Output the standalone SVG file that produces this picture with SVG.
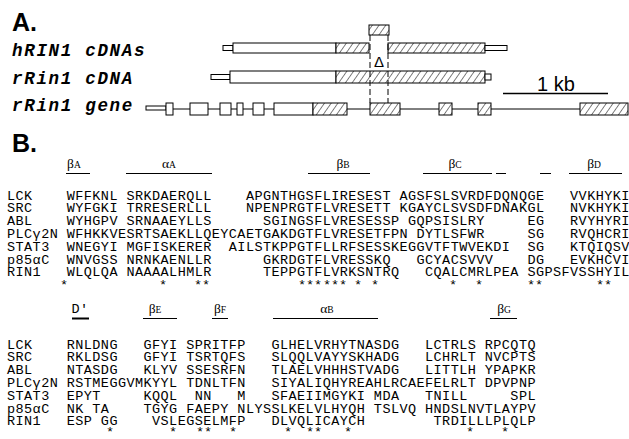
<svg xmlns="http://www.w3.org/2000/svg" width="629" height="439" viewBox="0 0 629 439">
<style>
.hd{font-family:"Liberation Sans",Arial,sans-serif;font-weight:bold;font-size:25px;fill:#000}
.lbl{font-family:"Liberation Mono","Courier New",monospace;font-weight:bold;font-style:italic;font-size:17.5px;letter-spacing:1.7px;white-space:pre;fill:#000}
.seq{font-family:"Liberation Mono","Courier New",monospace;font-size:13.5px;letter-spacing:0.43px;white-space:pre;fill:#000}
.st{font-family:"Liberation Mono","Courier New",monospace;font-size:13.5px;fill:#000;text-anchor:middle}
.gk{font-family:"Liberation Serif","Times New Roman",serif;font-size:13.5px;fill:#000}
.sc{font-size:9.5px}
.ln{stroke:#000;stroke-width:1;fill:none}
.bar{stroke:#000;stroke-width:1}
.w{fill:#fff}
.h{fill:url(#hatch)}
.dash{stroke:#000;stroke-width:1;stroke-dasharray:6 3;fill:none}
.sans{font-family:"Liberation Sans",Arial,sans-serif;fill:#000}
</style>
<defs>
<pattern id="hatch" patternUnits="userSpaceOnUse" width="5.5" height="10" patternTransform="rotate(35)">
<rect width="5.5" height="10" fill="#fff"/>
<line x1="0" y1="0" x2="0" y2="10" stroke="#000" stroke-width="1"/>
</pattern>
</defs>
<rect width="629" height="439" fill="#fff"/>

<g id="panelA">
<text class="hd" x="12" y="31">A.</text>
<g id="hRIN1">
<text class="lbl" x="12" y="56" xml:space="preserve">hRIN1 cDNAs</text>
<rect class="bar w" x="223" y="45.5" width="10" height="5"/>
<rect class="bar w" x="233" y="43" width="103" height="10"/>
<rect class="bar h" x="336" y="43" width="33" height="10"/>
<rect class="bar h" x="388" y="43" width="97" height="10"/>
<rect class="bar w" x="485" y="45.5" width="22" height="5"/>
</g>
<g id="exon-delta">
<rect class="bar h" x="369" y="25" width="20" height="10"/>
<text class="sans" x="379" y="67" font-size="15" text-anchor="middle">Δ</text>
</g>
<g id="rRin1-cDNA">
<text class="lbl" x="12" y="84" xml:space="preserve">rRin1 cDNA</text>
<rect class="bar w" x="211" y="74.5" width="19" height="5"/>
<rect class="bar w" x="230" y="71" width="106" height="12"/>
<rect class="bar h" x="336" y="71" width="149" height="12"/>
<rect class="bar w" x="485" y="74" width="6" height="6"/>
</g>
<g id="rRin1-gene">
<text class="lbl" x="12" y="111" xml:space="preserve">rRin1 gene</text>
<line class="ln" x1="166" y1="109" x2="628" y2="109"/>
<rect class="bar w" x="146" y="106" width="20" height="4"/>
<rect class="bar w" x="166" y="103" width="7" height="12"/>
<rect class="bar w" x="190" y="103" width="18" height="12"/>
<rect class="bar w" x="220" y="103" width="11" height="12"/>
<rect class="bar w" x="237" y="103" width="6" height="12"/>
<rect class="bar w" x="253" y="103" width="11" height="12"/>
<rect class="bar w" x="274" y="103" width="39" height="12"/>
<rect class="bar h" x="313" y="103" width="34" height="12"/>
<rect class="bar h" x="370" y="103" width="30" height="12"/>
<rect class="bar h" x="439" y="103" width="13" height="12"/>
<rect class="bar h" x="478" y="103" width="13" height="12"/>
<rect class="bar h" x="580" y="103" width="48" height="12"/>
</g>
<g id="connectors">
<line class="dash" x1="370" y1="35" x2="370" y2="103"/>
<line class="dash" x1="388" y1="35" x2="388" y2="103"/>
</g>
<g id="scale">
<text class="sans" x="537" y="91" font-size="20">1 kb</text>
<line x1="503" y1="93.5" x2="608" y2="93.5" stroke="#000" stroke-width="1.5"/>
</g>
</g>

<g id="panelB">
<text class="hd" x="12" y="152">B.</text>
<g id="block1-headers">
<text class="gk" x="67" y="168">β<tspan class="sc">A</tspan></text>
<line class="ln" x1="66" y1="173.5" x2="90" y2="173.5"/>
<text class="gk" x="169" y="168" text-anchor="middle">α<tspan class="sc">A</tspan></text>
<line class="ln" x1="126" y1="173.5" x2="212" y2="173.5"/>
<text class="gk" x="343" y="168" text-anchor="middle">β<tspan class="sc">B</tspan></text>
<line class="ln" x1="308" y1="173.5" x2="370" y2="173.5"/>
<text class="gk" x="455" y="168" text-anchor="middle">β<tspan class="sc">C</tspan></text>
<line class="ln" x1="423" y1="173.5" x2="492" y2="173.5"/>
<line class="ln" x1="496" y1="173.5" x2="506" y2="173.5"/>
<line class="ln" x1="540" y1="173.5" x2="551" y2="173.5"/>
<text class="gk" x="594" y="168" text-anchor="middle">β<tspan class="sc">D</tspan></text>
<line class="ln" x1="569" y1="173.5" x2="622" y2="173.5"/>
</g>
<g id="block1-rows" xml:space="preserve">
<text class="seq" x="7" y="199.5">LCK    WFFKNL SRKDAERQLL    APGNTHGSFLIRESEST AGSFSLSVRDFDQNQGE   VVKHYKI</text>
<text class="seq" x="7" y="212.3">SRC    WYFGKI TRRESERLLL    NPENPRGTFLVRESETT KGAYCLSVSDFDNAKGL   NVKHYKI</text>
<text class="seq" x="7" y="225.1">ABL    WYHGPV SRNAAEYLLS      SGINGSFLVRESESSP GQPSISLRY     EG   RVYHYRI</text>
<text class="seq" x="7" y="237.9">PLCγ2N WFHKKVESRTSAEKLLQEYCAETGAKDGTFLVRESETFPN DYTLSFWR     SG   RVQHCRI</text>
<text class="seq" x="7" y="250.7">STAT3  WNEGYI MGFISKERER  AILSTKPPGTFLLRFSESSKEGGVTFTWVEKDI  SG   KTQIQSV</text>
<text class="seq" x="7" y="263.5">p85αC  WNVGSS NRNKAENLLR      GKRDGTFLVRESSKQ   GCYACSVVV    DG   EVKHCVI</text>
<text class="seq" x="7" y="276.3">RIN1   WLQLQA NAAAALHMLR      TEPPGTFLVRKSNTRQ   CQALCMRLPEA SGPSFVSSHYIL</text>
<text class="st" x="64 163 198 206 302 310 318 327 335 343 358 375 453 479 531 539 600 608" y="289">******************</text>
</g>
<g id="block2-headers">
<text class="seq" x="80" y="313" text-anchor="middle">D'</text>
<line x1="72" y1="318.5" x2="89" y2="318.5" stroke="#000" stroke-width="2"/>
<text class="gk" x="155" y="313" text-anchor="middle">β<tspan class="sc">E</tspan></text>
<line class="ln" x1="143" y1="318.5" x2="177" y2="318.5"/>
<text class="gk" x="220" y="313" text-anchor="middle">β<tspan class="sc">F</tspan></text>
<line class="ln" x1="212" y1="318.5" x2="228" y2="318.5"/>
<text class="gk" x="327" y="313" text-anchor="middle">α<tspan class="sc">B</tspan></text>
<line class="ln" x1="273" y1="318.5" x2="378" y2="318.5"/>
<text class="gk" x="504" y="313" text-anchor="middle">β<tspan class="sc">G</tspan></text>
<line class="ln" x1="490" y1="318.5" x2="517" y2="318.5"/>
</g>
<g id="block2-rows" xml:space="preserve">
<text class="seq" x="7" y="348.5">LCK    RNLDNG   GFYI SPRITFP   GLHELVRHYTNASDG   LCTRLS RPCQTQ</text>
<text class="seq" x="7" y="361.3">SRC    RKLDSG   GFYI TSRTQFS   SLQQLVAYYSKHADG   LCHRLT NVCPTS</text>
<text class="seq" x="7" y="374.1">ABL    NTASDG   KLYV SSESRFN   TLAELVHHHSTVADG   LITTLH YPAPKR</text>
<text class="seq" x="7" y="386.9">PLCγ2N RSTMEGGVMKYYL TDNLTFN   SIYALIQHYREAHLRCAEFELRLT DPVPNP</text>
<text class="seq" x="7" y="399.7">STAT3  EPYT     KQQL  NN   M   SFAEIIMGYKI MDA   TNILL     SPL</text>
<text class="seq" x="7" y="412.5">p85αC  NK TA    TGYG FAEPY NLYSSLKELVLHYQH TSLVQ HNDSLNVTLAYPV</text>
<text class="seq" x="7" y="425.3">RIN1   ESP GG    VSLEGSELMFP   DLVQLICAYCH        TRDILLLPLQLP</text>
<text class="st" x="110 173 200 208 233 288 310 318 348 470 505" y="436">***********</text>
</g>
</g>
</svg>
